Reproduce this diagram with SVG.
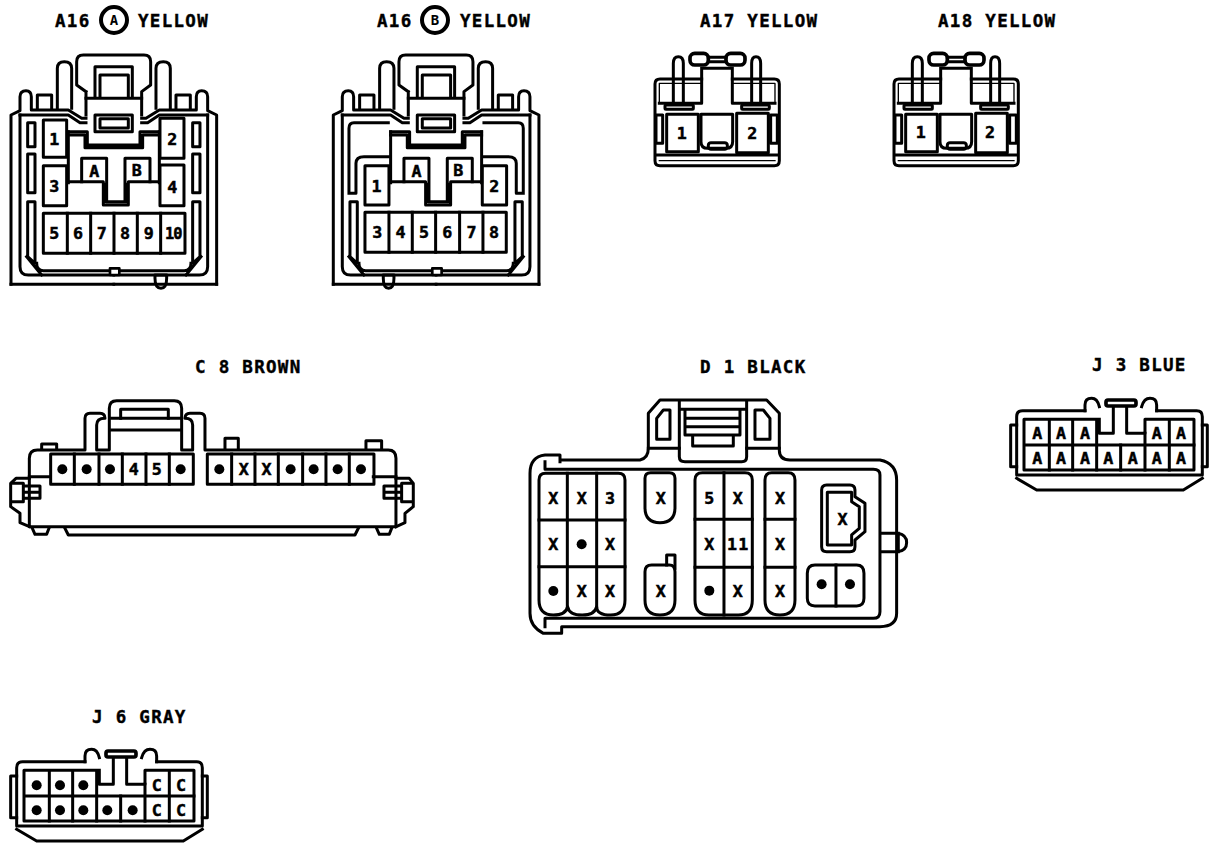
<svg xmlns="http://www.w3.org/2000/svg" width="1216" height="850" viewBox="0 0 1216 850">
<style>
.l{fill:none;stroke:#000;stroke-width:9;stroke-linejoin:round;stroke-linecap:square}
.n{stroke-width:4}
.h{stroke-width:11}
.w{fill:#fff;stroke:#000;stroke-width:8;stroke-linejoin:round}
.t{font-family:"DejaVu Sans Mono","Liberation Mono",monospace;font-weight:bold;font-size:17.5px;letter-spacing:1.3px;fill:#000;stroke:#000;stroke-width:.4}
.p{font-family:"DejaVu Sans Mono","Liberation Mono",monospace;font-weight:bold;font-size:50px;text-anchor:middle;fill:#000;stroke:#000;stroke-width:1.5}
.c{font-family:"DejaVu Sans Mono","Liberation Mono",monospace;font-weight:bold;font-size:14px;text-anchor:middle;fill:#000}
</style>
<defs>
<g id="a16half" class="l">
<path d="M33,853 V345 L60,332 V290 Q60,272 78,272 Q94,272 94,290 V330 H205 L245,355 H258"/>
<path d="M112,325 V285 H155 V325"/>
<path d="M172,325 V205 Q172,185 193,185 Q215,185 215,205 V325"/>
<path d="M60,345 H205 L240,368 H258"/>
<path d="M60,345 V800 Q60,825 85,825 H341"/>
<path d="M33,853 H341"/>
<path d="M80,770 L125,825 M110,790 Q110,812 130,812 H341"/>
<path d="M83,605 H105 V790 L83,770 Z"/>
</g>
<g id="a16core" class="l">
<use href="#a16half"/>
<use href="#a16half" transform="matrix(-1 0 0 1 683 0)"/>
<path d="M258,275 L230,255 V185 Q230,165 250,165 H432 Q452,165 452,185 V255 L425,275 V345 M258,275 V345"/>
<path d="M258,295 H425 M285,295 V200 H397 V295 M300,295 V225 H385 V295"/>
<rect x="285" y="345" width="112" height="50"/>
<rect x="300" y="356" width="85" height="28"/>
<path d="M205,395 H262 V435 H420 V395 H478 M205,405 H255 V443 H428 V405 H478"/>
<path d="M205,395 V548 M478,395 V548"/>
<path d="M205,545 H310 V615 H385 V545 H478 M318,553 V605 H378 V553"/>
<path d="M245,545 V475 H320 V600 M375,600 V475 H450 V545"/>
<rect class="w" x="330" y="805" width="28" height="20"/>
</g>
<g id="a17" class="l">
<path d="M185,237 H60 Q45,237 45,252 V482 Q45,497 60,497 H403 Q418,497 418,482 V252 Q418,237 403,237 H277"/>
<path class="n" d="M58,310 V250 H185 M277,250 H405 V310"/>
<path d="M185,205 V310 H58 M277,205 V310 H405 M185,205 H277"/>
<path d="M100,310 V190 Q100,170 115,170 Q130,170 130,190 V310 M335,310 V190 Q335,170 348,170 Q362,170 362,190 V310"/>
<rect class="h" x="150" y="160" width="55" height="35" rx="14"/>
<rect class="h" x="258" y="160" width="57" height="35" rx="14"/>
<path d="M205,172 H258 M205,185 H258"/>
<rect x="75" y="315" width="85" height="13" rx="3"/>
<rect x="305" y="315" width="83" height="13" rx="3"/>
<rect x="80" y="343" width="95" height="112"/>
<rect x="290" y="340" width="95" height="118"/>
<path d="M183,343 H278 V425 Q278,445 258,445 H203 Q183,445 183,425 Z"/>
<rect x="205" y="428" width="57" height="20" rx="8"/>
<rect x="48" y="345" width="20" height="85"/>
<rect x="392" y="345" width="20" height="85"/>
<path d="M48,465 H415"/>
<path class="n" d="M58,482 H405"/>
</g>
<g id="j" class="l">
<path d="M255,182 H68 Q50,182 50,200 V375 H607 V200 Q607,182 590,182 H470"/>
<path d="M255,182 V165 Q255,145 275,145 Q292,145 298,170 M470,182 V165 Q470,145 450,145 Q432,145 425,170"/>
<rect class="h" x="318" y="150" width="90" height="18" rx="6"/>
<path d="M290,208 H72 V360 H582 V208 H435 V250 H380 V170 M340,170 V250 H298 V208"/>
<path d="M75,285 H290 M435,285 H582 M290,285 H435"/>
<path d="M148,212 V360 M218,212 V360 M290,212 V360 M362,285 V360 M435,250 V360 M508,212 V360"/>
<path d="M50,385 L110,420 H550 L607,385"/>
<path d="M50,225 H32 V350 H50 M607,225 H622 V350 H607"/>
</g>
<circle id="d" r="15" fill="#000"/>
</defs>

<g id="a16a">
<text class="t" x="55" y="27">A16</text>
<circle cx="114" cy="20" r="13" fill="#fff" stroke="#000" stroke-width="4"/>
<text class="c" x="114" y="25">A</text>
<text class="t" x="138" y="27">YELLOW</text>
<g transform="scale(.3333)">
<use href="#a16core"/>
<g class="l">
<rect x="83" y="368" width="22" height="72"/><rect x="83" y="462" width="22" height="116"/>
<rect x="578" y="368" width="22" height="72"/><rect x="578" y="462" width="22" height="116"/>
<rect x="130" y="360" width="70" height="112"/><rect x="480" y="355" width="72" height="120"/>
<rect x="130" y="497" width="70" height="120"/><rect x="480" y="495" width="72" height="122"/>
<rect x="130" y="640" width="425" height="120"/>
<path d="M202,640 V760 M272,640 V760 M342,640 V760 M412,640 V760 M482,640 V760"/>
<path d="M465,835 Q465,865 483,865 Q500,865 500,835 V825 H465 Z"/>
</g>
<text class="p" x="163" y="435">1</text><text class="p" x="517" y="435">2</text>
<text class="p" x="163" y="575">3</text><text class="p" x="517" y="578">4</text>
<text class="p" x="283" y="530">A</text><text class="p" x="410" y="527">B</text>
<text class="p" x="163" y="717">5</text><text class="p" x="234" y="717">6</text><text class="p" x="305" y="717">7</text><text class="p" x="375" y="717">8</text><text class="p" x="446" y="717">9</text><text class="p" x="520" y="717" style="font-size:46px;letter-spacing:-3px">10</text>
</g>
</g>

<g id="a16b">
<text class="t" x="377" y="27">A16</text>
<circle cx="435" cy="20" r="13" fill="#fff" stroke="#000" stroke-width="4"/>
<text class="c" x="435" y="25">B</text>
<text class="t" x="460" y="27">YELLOW</text>
<g transform="translate(322.3,0) scale(.3333)">
<use href="#a16core"/>
<g class="l">
<path d="M80,580 V385 Q80,368 95,368 H198 M198,470 H125 Q101,470 101,490 V580 H80"/>
<path d="M603,580 V385 Q603,368 588,368 H485 M485,470 H558 Q582,470 582,490 V580 H603"/>
<rect x="128" y="497" width="72" height="118"/><rect x="480" y="497" width="73" height="118"/>
<rect x="128" y="637" width="424" height="120"/>
<path d="M200,637 V757 M270,637 V757 M340,637 V757 M412,637 V757 M482,637 V757"/>
<path d="M183,835 Q183,865 199,865 Q215,865 215,835 V825 H183 Z"/>
</g>
<text class="p" x="163" y="575">1</text><text class="p" x="516" y="575">2</text>
<text class="p" x="283" y="530">A</text><text class="p" x="408" y="527">B</text>
<text class="p" x="165" y="715">3</text><text class="p" x="235" y="715">4</text><text class="p" x="305" y="715">5</text><text class="p" x="375" y="715">6</text><text class="p" x="448" y="715">7</text><text class="p" x="515" y="715">8</text>
</g>
</g>

<g id="a17n">
<text class="t" x="700" y="27">A17 YELLOW</text>
<g transform="translate(640,0) scale(.3333)">
<use href="#a17"/>
<text class="p" x="125" y="417">1</text><text class="p" x="337" y="417">2</text>
</g>
</g>

<g id="a18n">
<text class="t" x="938" y="27">A18 YELLOW</text>
<g transform="translate(879,0) scale(.3333)">
<use href="#a17"/>
<text class="p" x="125" y="415">1</text><text class="p" x="333" y="415">2</text>
</g>
</g>

<g id="c8">
<text class="t" x="195" y="373">C 8 BROWN</text>
<g transform="translate(0,350) scale(.3333)">
<g class="l">
<path d="M88,380 V325 Q88,300 112,300 H255 V205 Q255,190 270,190 H300 Q315,190 315,205 Q290,205 290,225 V300 H328 V175 Q328,152 350,152 H523 Q545,152 545,175 V300 H578 V225 Q578,205 555,205 Q555,190 570,190 H600 Q615,190 615,205 V300 H1165 Q1188,300 1188,325 V380"/>
<path d="M335,205 H540 M335,240 H540"/>
<path d="M362,205 V178 H505 V205"/>
<path d="M125,298 V282 H170 V298 M675,298 V265 H715 V298 M1098,296 V272 H1145 V296"/>
<path d="M88,380 H150 M1120,380 H1188 M88,380 V530 H1188 V380"/>
<path d="M88,385 H48 L32,400 V470 L60,490 V518 L88,530"/>
<path d="M1188,385 H1228 L1240,400 V470 L1215,490 V518 L1188,530"/>
<path d="M40,400 H70 V455 H40 M70,408 H120 V445 H70 M75,427 H120"/>
<path d="M1232,400 H1205 V455 H1232 M1205,408 H1152 V445 H1205 M1152,427 H1200"/>
<path d="M97,535 L105,553 H140 L147,535 M1130,535 L1138,553 H1168 L1175,535"/>
<path d="M195,535 L205,555 H1065 L1075,535"/>
<rect x="152" y="312" width="428" height="91"/>
<path d="M223,312 V403 M297,312 V403 M367,312 V403 M438,312 V403 M508,312 V403"/>
<rect x="622" y="312" width="500" height="91"/>
<path d="M695,312 V403 M765,312 V403 M835,312 V403 M908,312 V403 M978,312 V403 M1048,312 V403"/>
</g>
<use href="#d" x="187" y="358"/><use href="#d" x="260" y="358"/><use href="#d" x="330" y="358"/>
<text class="p" x="401" y="376">4</text><text class="p" x="470" y="376">5</text>
<use href="#d" x="542" y="358"/><use href="#d" x="658" y="358"/>
<text class="p" x="731" y="376">X</text><text class="p" x="800" y="376">X</text>
<use href="#d" x="872" y="358"/><use href="#d" x="941" y="358"/><use href="#d" x="1013" y="358"/><use href="#d" x="1083" y="358"/>
</g>
</g>

<g id="d1">
<text class="t" x="700" y="373">D 1 BLACK</text>
<g transform="translate(520,350) scale(.3333)">
<g class="l">
<path d="M120,335 V315 H75 Q30,320 30,370 V790 Q30,830 70,850 H125 V830 H1080 Q1130,830 1130,790 V390 Q1130,340 1080,330 H810 Q778,330 778,300 V190 L740,150 H420 L385,190 V295 Q385,325 360,330 H120"/>
<path d="M75,335 V358 H1060 Q1080,358 1080,375 V785 Q1080,805 1060,805 H75 V830"/>
<path d="M478,155 V320 Q478,335 495,335 H665 Q680,335 680,320 V155 M478,178 H680"/>
<path d="M495,180 V255 H660 V180 M495,205 H660 M495,230 H660 M518,255 V288 H640 V255"/>
<path d="M410,205 L430,180 H450 V268 H410 Z M705,180 H730 L750,205 V268 H705 Z"/>
<path d="M385,295 H478 M680,295 H778"/>
<path d="M57,390 Q57,370 77,370 H295 Q315,370 315,390 V750 Q315,795 272,795 Q230,795 230,770 Q225,795 187,795 Q147,795 143,770 Q138,795 100,795 Q57,795 57,750 Z"/>
<path d="M142,370 V770 M230,370 V770 M57,510 H315 M57,650 H315"/>
<path d="M375,385 Q375,368 392,368 H448 Q465,368 465,385 V473 Q465,518 420,518 Q375,518 375,473 Z"/>
<path d="M375,665 Q375,645 395,645 H448 Q465,645 465,665 V750 Q465,795 420,795 Q375,795 375,750 Z"/>
<path d="M440,645 V615 H465 V655"/>
<path d="M525,390 Q525,368 547,368 H675 Q697,368 697,390 V750 Q697,795 655,795 H567 Q525,795 525,750 Z"/>
<path d="M612,368 V795 M525,508 H697 M525,652 H697"/>
<path d="M735,390 Q735,368 755,368 H805 Q825,368 825,390 V750 Q825,795 780,795 Q735,795 735,750 Z"/>
<path d="M735,508 H825 M735,652 H825"/>
<path d="M905,420 Q905,405 920,405 H990 Q1005,405 1005,420 V440 L1035,460 V545 L1005,570 V590 Q1005,605 990,605 H920 Q905,605 905,590 Z"/>
<path d="M922,427 H995 V455 L1018,470 V535 L995,555 V585 H922 Z"/>
<path d="M862,670 Q862,645 885,645 H1010 Q1032,645 1032,670 V745 Q1032,768 1010,768 H885 Q862,768 862,745 Z"/>
<path d="M948,645 V768"/>
<path d="M1085,550 H1135 Q1160,555 1160,578 Q1160,600 1135,605 H1085 M1135,550 V605"/>
</g>
<text class="p" x="100" y="461">X</text><text class="p" x="185" y="461">X</text><text class="p" x="270" y="461">3</text>
<text class="p" x="100" y="601">X</text><use href="#d" x="185" y="583"/><text class="p" x="270" y="601">X</text>
<use href="#d" x="100" y="723"/><text class="p" x="185" y="741">X</text><text class="p" x="270" y="741">X</text>
<text class="p" x="422" y="461">X</text><text class="p" x="422" y="740">X</text>
<text class="p" x="568" y="461">5</text><text class="p" x="653" y="461">X</text>
<text class="p" x="568" y="601">X</text><text class="p" x="655" y="601" style="letter-spacing:4px">11</text>
<use href="#d" x="568" y="722"/><text class="p" x="653" y="740">X</text>
<text class="p" x="780" y="461">X</text><text class="p" x="780" y="601">X</text><text class="p" x="780" y="740">X</text>
<text class="p" x="968" y="525">X</text>
<use href="#d" x="905" y="703"/><use href="#d" x="990" y="703"/>
</g>
</g>

<g id="j3">
<text class="t" x="1092" y="371">J 3 BLUE</text>
<g transform="translate(1000,350) scale(.3333)">
<use href="#j"/>
<text class="p" x="112" y="268">A</text><text class="p" x="183" y="268">A</text><text class="p" x="255" y="268">A</text><text class="p" x="470" y="268">A</text><text class="p" x="543" y="268">A</text>
<text class="p" x="112" y="343">A</text><text class="p" x="183" y="343">A</text><text class="p" x="255" y="343">A</text><text class="p" x="325" y="343">A</text><text class="p" x="398" y="343">A</text><text class="p" x="470" y="343">A</text><text class="p" x="543" y="343">A</text>
</g>
</g>

<g id="j6">
<text class="t" x="92" y="723">J 6 GRAY</text>
<g transform="translate(0,701) scale(.3333)">
<use href="#j"/>
<use href="#d" x="110" y="253"/><use href="#d" x="180" y="253"/><use href="#d" x="250" y="253"/>
<text class="p" x="470" y="271">C</text><text class="p" x="543" y="271">C</text>
<use href="#d" x="110" y="328"/><use href="#d" x="180" y="328"/><use href="#d" x="250" y="328"/><use href="#d" x="322" y="328"/><use href="#d" x="398" y="328"/>
<text class="p" x="470" y="346">C</text><text class="p" x="543" y="346">C</text>
</g>
</g>
</svg>
